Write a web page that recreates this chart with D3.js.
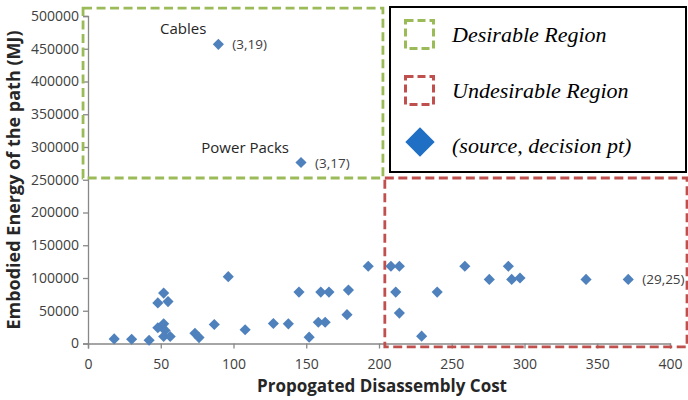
<!DOCTYPE html>
<html><head><meta charset="utf-8">
<script src="https://cdn.jsdelivr.net/npm/d3@7"></script>
<style>body{margin:0;background:#fff}svg{display:block}</style>
</head><body>
<svg id="c" width="688" height="400"></svg>
<script>
const costs = [18,30,42,48,52,55,48,52,53,52,56.5,73.5,76.3,86.8,96.4,108,127.4,137.7,145,152,158.3,160,163,165.6,179,178,192.6,208.2,214,211.5,214,229.3,240,259,275.8,288.9,291.2,296.9,342.3,371.3,89.6,146.4];
const energies = [7000,6500,5000,62000,77000,64000,24000,30000,20000,10700,10700,15700,9000,29000,102000,21000,30500,30000,78500,9700,32500,78500,32500,78500,81500,44000,118000,118000,118000,78500,46400,11200,78500,118000,97900,118000,97900,100000,97900,97900,456700,276300];
const labels = [{i:40,name:"Cables",pair:"(3,19)"},{i:41,name:"Power Packs",pair:"(3,17)"},{i:39,name:"",pair:"(29,25)"}];
const xTicks = [0,50,100,150,200,250,300,350,400];
const yTicks = [0,50000,100000,150000,200000,250000,300000,350000,400000,450000,500000];
const regionDesirable = {x0:-3.4,x1:202.7,y0:252700,y1:512000};
const regionUndesirable = {x0:204,x1:411.7,y0:-5300,y1:252700};
const legendItems = ["Desirable Region","Undesirable Region","(source, decision pt)"];

const svg = d3.select("#c");
const x = d3.scaleLinear().domain([0,400]).range([88,670]);
const y = d3.scaleLinear().domain([0,500000]).range([343.5,16]);
const blue = "#4F81BD", green = "#9BBB59", red = "#C0504D";
const font = "'Open Sans', sans-serif";

// axes
const xa = svg.append("g").attr("transform",`translate(0,${y(0)})`)
  .call(d3.axisBottom(x).tickValues(xTicks).tickSize(5).tickPadding(11));
const ya = svg.append("g").attr("transform",`translate(${x(0)},0)`)
  .call(d3.axisLeft(y).tickValues(yTicks).tickSize(5).tickPadding(4).tickFormat(d3.format("d")));
[xa,ya].forEach(a=>{
  a.selectAll("path,line").attr("stroke","#888").attr("stroke-width",1.3);
  a.selectAll("text").attr("fill","#404040").style("font-family",font).style("font-size","14px");
});

// regions
function rect(r,col){
  svg.append("rect").attr("x",x(r.x0)).attr("y",y(r.y1))
    .attr("width",x(r.x1)-x(r.x0)).attr("height",y(r.y0)-y(r.y1))
    .attr("fill","none").attr("stroke",col).attr("stroke-width",2.8).attr("stroke-dasharray","9,4.5");
}
rect(regionDesirable,green);
rect(regionUndesirable,red);

// points
const sym = d3.symbol().type(d3.symbolSquare).size(62);
svg.append("g").selectAll("path").data(costs.map((c,i)=>[c,energies[i]])).join("path")
  .attr("d",sym).attr("fill",blue)
  .attr("transform",d=>`translate(${x(d[0])},${y(d[1])}) rotate(45)`);

// labels
labels.forEach(l=>{
  const px = x(costs[l.i]), py = y(energies[l.i]);
  svg.append("text").attr("x",px+14).attr("y",py+5).text(l.pair)
    .attr("fill","#404040").style("font-family",font).style("font-size","13.5px");
  if(l.name) svg.append("text").attr("x",px-12).attr("y",py-10).attr("text-anchor","end").text(l.name)
    .attr("fill","#262626").style("font-family",font).style("font-size","15px");
});

// axis titles
svg.append("text").attr("x",382).attr("y",392).attr("text-anchor","middle")
  .text("Propogated Disassembly Cost").attr("fill","#262626")
  .style("font-family",font).style("font-weight","bold").style("font-size","17px");
svg.append("text").attr("transform","translate(20,180) rotate(-90)").attr("text-anchor","middle")
  .text("Embodied Energy of the path (MJ)").attr("fill","#262626")
  .style("font-family",font).style("font-weight","bold").style("font-size","18px");

// legend
const lg = svg.append("g");
lg.append("rect").attr("x",390).attr("y",7).attr("width",296).attr("height",165)
  .attr("fill","#fff").attr("stroke","#000").attr("stroke-width",2);
[green,red].forEach((c,i)=>{
  lg.append("rect").attr("x",405.5).attr("y",20.5+i*56).attr("width",28).attr("height",28)
    .attr("fill","none").attr("stroke",c).attr("stroke-width",3).attr("stroke-dasharray","8,4");
});
lg.append("path").attr("d",d3.symbol().type(d3.symbolSquare).size(430)())
  .attr("fill","#1F6FC5").attr("transform","translate(420,142) rotate(45)");
legendItems.forEach((t,i)=>{
  lg.append("text").attr("x",452).attr("y",42+i*55.5).text(t)
    .attr("fill","#000").style("font-family","'Liberation Serif', 'Times New Roman', serif")
    .style("font-style","italic").style("font-size","22px");
});
</script>
</body></html>
